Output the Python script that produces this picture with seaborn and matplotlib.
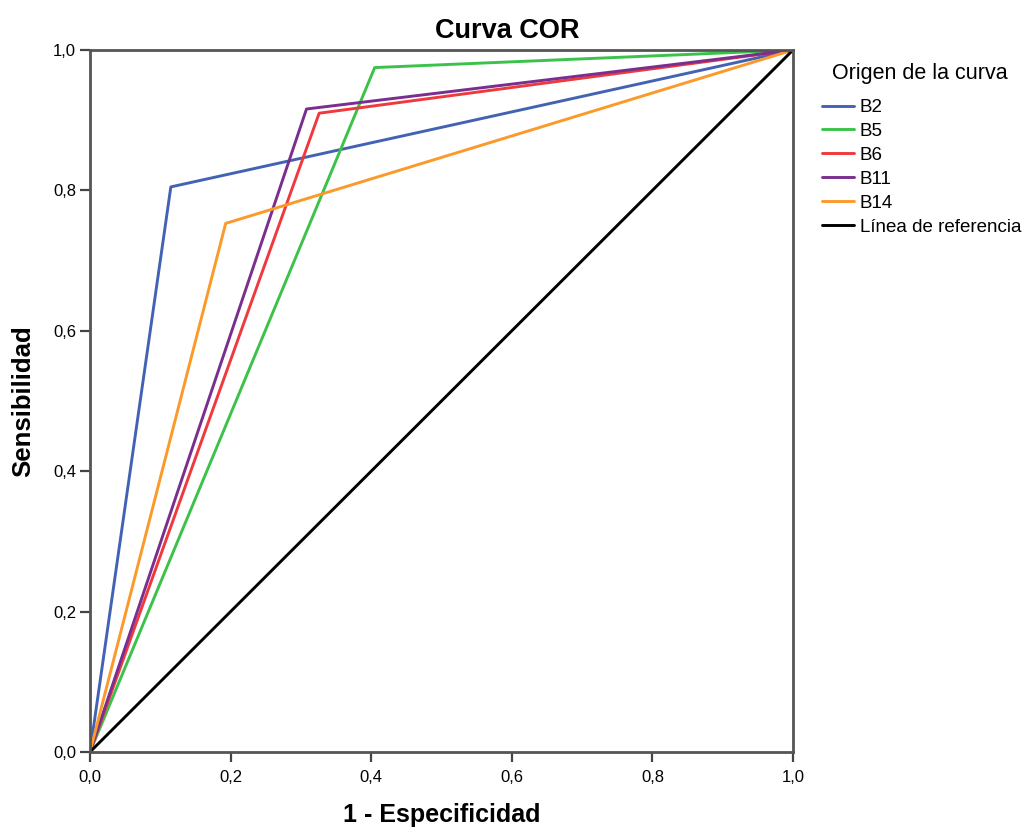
import pandas as pd
import matplotlib
matplotlib.use("Agg")
import matplotlib.pyplot as plt
import seaborn as sns

curvas = ['B2', 'B5', 'B6', 'B11', 'B14']
fpr = [0.115, 0.405, 0.326, 0.308, 0.193]
tpr = [0.805, 0.975, 0.910, 0.916, 0.753]
colores = ['#4263b4', '#3cc24a', '#f0393f', '#7a2f8e', '#fb9a2a']

ticks = [0.0, 0.2, 0.4, 0.6, 0.8, 1.0]
tick_labels = ['0,0', '0,2', '0,4', '0,6', '0,8', '1,0']

filas = []
for nombre, x, y in zip(curvas, fpr, tpr):
    for orden, (px, py) in enumerate([(0, 0), (x, y), (1, 1)]):
        filas.append({'Curva': nombre, 'orden': orden, 'x': px, 'y': py})
df = pd.DataFrame(filas)
ref = pd.DataFrame({'x': [0, 1], 'y': [0, 1]})

sns.set_theme(style="white")
plt.rcParams['font.family'] = ['Liberation Sans', 'DejaVu Sans']
plt.rcParams['text.color'] = 'black'
plt.rcParams['axes.labelcolor'] = 'black'
plt.rcParams['xtick.labelcolor'] = 'black'
plt.rcParams['ytick.labelcolor'] = 'black'

fig = plt.figure(figsize=(10.26, 8.31), dpi=100)
ax = fig.add_axes([0.0877, 0.0951, 0.6852, 0.8447])

sns.lineplot(data=df, x='x', y='y', hue='Curva', hue_order=curvas,
             palette=colores, sort=False, estimator=None, units='Curva',
             linewidth=2.1, ax=ax, legend=False)
sns.lineplot(data=ref, x='x', y='y', color='black', linewidth=2.1, ax=ax)

ax.set_xlim(0, 1)
ax.set_ylim(0, 1)
ax.set_xticks(ticks)
ax.set_xticklabels(tick_labels)
ax.set_yticks(ticks)
ax.set_yticklabels(tick_labels)
ax.tick_params(axis='both', direction='out', length=7, width=1.6,
               color='#444444', labelsize=12, pad=3,
               bottom=True, left=True)
ax.tick_params(axis='x', pad=6)
for lado in ax.spines.values():
    lado.set_color('#555555')
    lado.set_linewidth(2)

ax.set_xlabel('1 - Especificidad', fontsize=18, fontweight='bold', labelpad=13)
ax.set_ylabel('Sensibilidad', fontsize=18.5, fontweight='bold', labelpad=13)
fig.text(0.494, 0.963, 'Curva COR', ha='center', va='center',
         fontsize=19.5, fontweight='bold')

# Leyenda
handles = [plt.Line2D([], [], color=c, linewidth=2.1) for c in colores]
handles.append(plt.Line2D([], [], color='black', linewidth=2.1))
etiquetas = curvas + ['Línea de referencia']
fig.text(832 / 1026, 1 - 73 / 831, 'Origen de la curva', ha='left',
         va='center', fontsize=15.5)
leg = fig.legend(handles, etiquetas,
                 loc='upper left', bbox_to_anchor=(822 / 1026, 1 - 99 / 831),
                 frameon=False, fontsize=13.5,
                 handlelength=1.7, handletextpad=0.32, labelspacing=0.36,
                 borderaxespad=0, borderpad=0)

fig.savefig('out.png', dpi=100)
